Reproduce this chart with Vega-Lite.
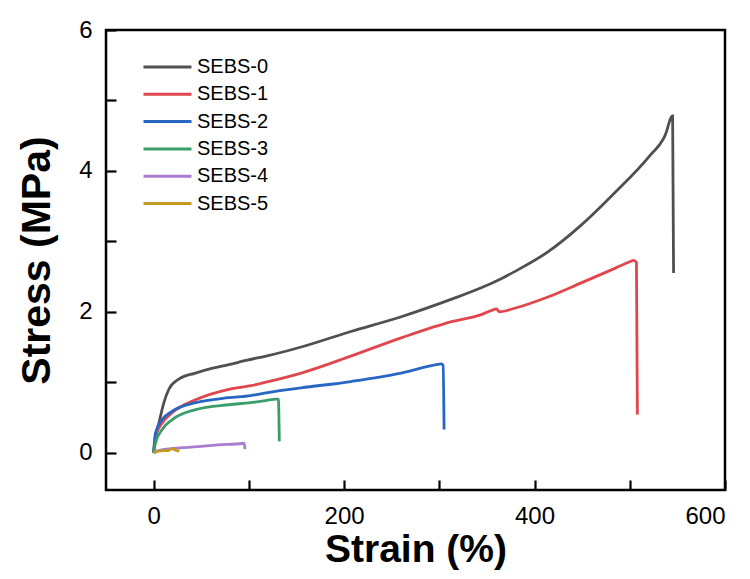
{
  "$schema": "https://vega.github.io/schema/vega-lite/v6.json",
  "width": 619,
  "height": 460,
  "autosize": {"type": "none"},
  "padding": {"left": 106, "top": 30, "right": 25, "bottom": 89},
  "background": "white",
  "config": {
    "font": "Liberation Sans",
    "view": {"stroke": "black", "strokeWidth": 2.5},
    "axis": {
      "domain": false,
      "grid": false,
      "ticks": true,
      "tickColor": "black",
      "tickWidth": 2.2,
      "labelColor": "black",
      "labelFontSize": 24,
      "titleColor": "black",
      "titleFontSize": 39,
      "titleFontWeight": "bold",
      "titleFont": "Liberation Sans"
    }
  },
  "data": {
    "values": [
      {"sample": "SEBS-0", "strain": 0, "stress": 0},
      {"sample": "SEBS-0", "strain": 2, "stress": 0.2},
      {"sample": "SEBS-0", "strain": 5.6, "stress": 0.42},
      {"sample": "SEBS-0", "strain": 10.8, "stress": 0.71},
      {"sample": "SEBS-0", "strain": 16, "stress": 0.9},
      {"sample": "SEBS-0", "strain": 26, "stress": 1.04},
      {"sample": "SEBS-0", "strain": 44, "stress": 1.13},
      {"sample": "SEBS-0", "strain": 62, "stress": 1.2},
      {"sample": "SEBS-0", "strain": 79, "stress": 1.25},
      {"sample": "SEBS-0", "strain": 97, "stress": 1.31},
      {"sample": "SEBS-0", "strain": 118, "stress": 1.37},
      {"sample": "SEBS-0", "strain": 155, "stress": 1.5},
      {"sample": "SEBS-0", "strain": 207, "stress": 1.72},
      {"sample": "SEBS-0", "strain": 260, "stress": 1.93},
      {"sample": "SEBS-0", "strain": 313, "stress": 2.18},
      {"sample": "SEBS-0", "strain": 344, "stress": 2.34},
      {"sample": "SEBS-0", "strain": 365, "stress": 2.47},
      {"sample": "SEBS-0", "strain": 379, "stress": 2.57},
      {"sample": "SEBS-0", "strain": 414, "stress": 2.85},
      {"sample": "SEBS-0", "strain": 449, "stress": 3.23},
      {"sample": "SEBS-0", "strain": 485, "stress": 3.7},
      {"sample": "SEBS-0", "strain": 520, "stress": 4.2},
      {"sample": "SEBS-0", "strain": 537, "stress": 4.5},
      {"sample": "SEBS-0", "strain": 545, "stress": 4.78},
      {"sample": "SEBS-0", "strain": 546, "stress": 2.55},
      {"sample": "SEBS-1", "strain": 0, "stress": 0},
      {"sample": "SEBS-1", "strain": 2, "stress": 0.23},
      {"sample": "SEBS-1", "strain": 9, "stress": 0.42},
      {"sample": "SEBS-1", "strain": 19.7, "stress": 0.57},
      {"sample": "SEBS-1", "strain": 44, "stress": 0.75},
      {"sample": "SEBS-1", "strain": 79, "stress": 0.9},
      {"sample": "SEBS-1", "strain": 102, "stress": 0.95},
      {"sample": "SEBS-1", "strain": 118, "stress": 1.0},
      {"sample": "SEBS-1", "strain": 155, "stress": 1.13},
      {"sample": "SEBS-1", "strain": 207, "stress": 1.37},
      {"sample": "SEBS-1", "strain": 260, "stress": 1.63},
      {"sample": "SEBS-1", "strain": 313, "stress": 1.86},
      {"sample": "SEBS-1", "strain": 344, "stress": 1.96},
      {"sample": "SEBS-1", "strain": 355, "stress": 2.02},
      {"sample": "SEBS-1", "strain": 360, "stress": 2.04},
      {"sample": "SEBS-1", "strain": 363, "stress": 2.0},
      {"sample": "SEBS-1", "strain": 379, "stress": 2.05},
      {"sample": "SEBS-1", "strain": 414, "stress": 2.21},
      {"sample": "SEBS-1", "strain": 449, "stress": 2.41},
      {"sample": "SEBS-1", "strain": 485, "stress": 2.62},
      {"sample": "SEBS-1", "strain": 500, "stress": 2.71},
      {"sample": "SEBS-1", "strain": 504, "stress": 2.73},
      {"sample": "SEBS-1", "strain": 507, "stress": 2.7},
      {"sample": "SEBS-1", "strain": 508, "stress": 0.54},
      {"sample": "SEBS-2", "strain": 0, "stress": 0},
      {"sample": "SEBS-2", "strain": 2, "stress": 0.28},
      {"sample": "SEBS-2", "strain": 9, "stress": 0.47},
      {"sample": "SEBS-2", "strain": 19.7, "stress": 0.59},
      {"sample": "SEBS-2", "strain": 44, "stress": 0.71},
      {"sample": "SEBS-2", "strain": 79, "stress": 0.78},
      {"sample": "SEBS-2", "strain": 102, "stress": 0.81},
      {"sample": "SEBS-2", "strain": 118, "stress": 0.85},
      {"sample": "SEBS-2", "strain": 155, "stress": 0.92},
      {"sample": "SEBS-2", "strain": 207, "stress": 1.01},
      {"sample": "SEBS-2", "strain": 260, "stress": 1.13},
      {"sample": "SEBS-2", "strain": 297, "stress": 1.25},
      {"sample": "SEBS-2", "strain": 302, "stress": 1.26},
      {"sample": "SEBS-2", "strain": 304, "stress": 1.24},
      {"sample": "SEBS-2", "strain": 305, "stress": 0.33},
      {"sample": "SEBS-3", "strain": 0, "stress": 0},
      {"sample": "SEBS-3", "strain": 2, "stress": 0.14},
      {"sample": "SEBS-3", "strain": 9, "stress": 0.33},
      {"sample": "SEBS-3", "strain": 19.7, "stress": 0.47},
      {"sample": "SEBS-3", "strain": 44, "stress": 0.61},
      {"sample": "SEBS-3", "strain": 79, "stress": 0.68},
      {"sample": "SEBS-3", "strain": 102, "stress": 0.71},
      {"sample": "SEBS-3", "strain": 118, "stress": 0.74},
      {"sample": "SEBS-3", "strain": 129, "stress": 0.76},
      {"sample": "SEBS-3", "strain": 131, "stress": 0.76},
      {"sample": "SEBS-3", "strain": 132, "stress": 0.16},
      {"sample": "SEBS-4", "strain": 0, "stress": 0},
      {"sample": "SEBS-4", "strain": 5, "stress": 0.03},
      {"sample": "SEBS-4", "strain": 21, "stress": 0.06},
      {"sample": "SEBS-4", "strain": 46, "stress": 0.085},
      {"sample": "SEBS-4", "strain": 67, "stress": 0.11},
      {"sample": "SEBS-4", "strain": 93, "stress": 0.13},
      {"sample": "SEBS-4", "strain": 95, "stress": 0.135},
      {"sample": "SEBS-4", "strain": 96, "stress": 0.05},
      {"sample": "SEBS-5", "strain": 0, "stress": 0},
      {"sample": "SEBS-5", "strain": 5, "stress": 0.02},
      {"sample": "SEBS-5", "strain": 10, "stress": 0.03},
      {"sample": "SEBS-5", "strain": 15, "stress": 0.03},
      {"sample": "SEBS-5", "strain": 18, "stress": 0.05},
      {"sample": "SEBS-5", "strain": 20, "stress": 0.06},
      {"sample": "SEBS-5", "strain": 22, "stress": 0.04},
      {"sample": "SEBS-5", "strain": 25, "stress": 0.03},
      {"sample": "SEBS-5", "strain": 27, "stress": 0.02}
    ]
  },
  "mark": {"type": "line", "strokeWidth": 2.8, "clip": true, "interpolate": "monotone"},
  "encoding": {
    "x": {
      "field": "strain",
      "type": "quantitative",
      "scale": {"domain": [-50, 600], "nice": false, "zero": false},
      "axis": {
        "title": "Strain (%)",
        "values": [0, 100, 200, 300, 400, 500, 600],
        "labelExpr": "datum.value % 200 === 0 ? datum.label : ''",
        "tickSize": -10,
        "labelPadding": 24,
        "titlePadding": 2
      }
    },
    "y": {
      "field": "stress",
      "type": "quantitative",
      "scale": {"domain": [-0.53, 6], "nice": false, "zero": false},
      "axis": {
        "title": "Stress (MPa)",
        "titleFontSize": 41,
        "values": [0, 1, 2, 3, 4, 5, 6],
        "labelExpr": "datum.value % 2 === 0 ? datum.label : ''",
        "tickSize": -10,
        "labelPadding": 24,
        "titlePadding": 20
      }
    },
    "color": {
      "field": "sample",
      "type": "nominal",
      "scale": {
        "domain": ["SEBS-0", "SEBS-1", "SEBS-2", "SEBS-3", "SEBS-4", "SEBS-5"],
        "range": ["#505050", "#e0474c", "#2866c4", "#3b9d69", "#a87dd0", "#c49a22"]
      },
      "legend": {
        "orient": "none",
        "legendX": 36,
        "legendY": 27,
        "title": null,
        "symbolType": "stroke",
        "symbolSize": 2304,
        "symbolStrokeWidth": 3,
        "labelFontSize": 20,
        "labelColor": "black",
        "labelFont": "Liberation Sans",
        "clipHeight": 20,
        "rowPadding": 7.3,
        "labelOffset": 4
      }
    }
  }
}
